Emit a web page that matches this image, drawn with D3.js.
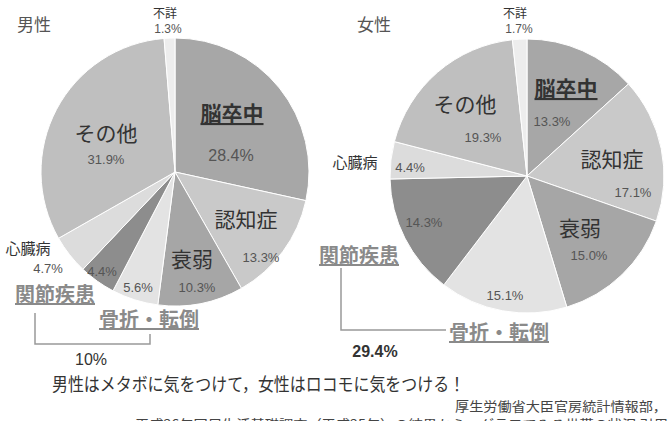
<!DOCTYPE html>
<html>
<head>
<meta charset="utf-8">
<script src="https://cdn.jsdelivr.net/npm/d3@7"></script>
<style>
  body { margin: 0; background: #fff; }
  svg { display: block; font-family: "Noto Sans CJK JP", "Noto Sans", sans-serif; }
</style>
</head>
<body>
<div id="container"></div>
<script>
// categories, clockwise from 12 o'clock
var categories = ['脳卒中', '認知症', '衰弱', '骨折・転倒', '関節疾患', '心臓病', 'その他', '不詳'];
var maleValues = [28.4, 13.3, 10.3, 5.6, 4.4, 4.7, 31.9, 1.3];
var femaleValues = [13.3, 17.1, 15.0, 15.1, 14.3, 4.4, 19.3, 1.7];
var maleLabels = ['28.4%', '13.3%', '10.3%', '5.6%', '4.4%', '4.7%', '31.9%', '1.3%'];
var femaleLabels = ['13.3%', '17.1%', '15.0%', '15.1%', '14.3%', '4.4%', '19.3%', '1.7%'];
var locomoSum = {male: '10%', female: '29.4%'};

var width = 671, height = 421;

// grey shades per category
var colorMap = d3.scaleOrdinal()
	.domain(categories)
	.range(['#a7a7a7', '#c9c9c9', '#a6a6a6', '#e3e3e3', '#8d8d8d', '#dcdcdc', '#bfbfbf', '#ededed']);

var svg = d3.select('#container').append('svg')
	.attr('width', width)
	.attr('height', height);

var pie = d3.pie().sort(null).value(function(d) { return d.value; });

// label layout for each pie (relative to the svg)
var layout = {
	male: {
		cx: 175, cy: 172, r: 134, title: '男性', tx: 17, ty: 31,
		name: {
			'その他': [106, 141], '脳卒中': [232, 121], '認知症': [246, 227], '衰弱': [192, 267],
			'心臓病': [28, 254], '関節疾患': [55, 302], '骨折・転倒': [149, 327], '不詳': [165, 18]
		},
		pct: {
			'その他': [106, 164], '脳卒中': [231, 161], '認知症': [261, 262], '衰弱': [197, 292],
			'骨折・転倒': [138, 292], '関節疾患': [102, 276], '心臓病': [48, 273], '不詳': [168, 33]
		},
		bracket: [[35, 313], [35, 344], [150, 344], [150, 334]],
		sum: [91, 365], sumBold: false
	},
	female: {
		cx: 527, cy: 176, r: 137, title: '女性', tx: 357, ty: 31,
		name: {
			'その他': [465, 112], '脳卒中': [566, 96], '認知症': [612, 167], '衰弱': [580, 236],
			'心臓病': [355, 168], '関節疾患': [359, 263], '骨折・転倒': [499, 340], '不詳': [515, 18]
		},
		pct: {
			'その他': [483, 142], '脳卒中': [552, 126], '認知症': [633, 197], '衰弱': [589, 260],
			'骨折・転倒': [505, 300], '関節疾患': [424, 227], '心臓病': [410, 172], '不詳': [519, 33]
		},
		bracket: [[341, 268], [341, 330], [446, 330]],
		sum: [375, 357], sumBold: true
	}
};

function drawPie(key, values, labels) {
	var L = layout[key];
	var data = categories.map(function(c, i) { return {key: c, value: values[i], label: labels[i]}; });
	var arc = d3.arc().innerRadius(0).outerRadius(L.r);

	var g = svg.append('g').attr('transform', 'translate(' + L.cx + ',' + L.cy + ')');
	g.selectAll('path')
		.data(pie(data)).enter()
		.append('path')
			.attr('d', arc)
			.style('fill', function(d) { return colorMap(d.data.key); })
			.style('stroke', '#fff')
			.style('stroke-width', 1);

	// title
	svg.append('text')
		.attr('x', L.tx).attr('y', L.ty)
		.style('font-size', '17px').style('fill', '#555')
		.text(L.title);

	// category names
	data.forEach(function(d) {
		var p = L.name[d.key];
		var t = svg.append('text')
			.attr('x', p[0]).attr('y', p[1])
			.attr('text-anchor', 'middle')
			.text(d.key);
		if (d.key == '脳卒中') {
			t.style('font-size', '21px').style('font-weight', 'bold').style('fill', '#333')
				.style('text-decoration', 'underline');
		} else if (d.key == '関節疾患' || d.key == '骨折・転倒') {
			t.style('font-size', '20px').style('font-weight', 'bold').style('fill', '#8a8a8a')
				.style('text-decoration', 'underline');
		} else if (d.key == '心臓病') {
			t.style('font-size', '15px').style('fill', '#333');
		} else if (d.key == '不詳') {
			t.style('font-size', '12px').style('fill', '#333');
		} else {
			t.style('font-size', '21px').style('fill', '#333');
		}

		var q = L.pct[d.key];
		svg.append('text')
			.attr('x', q[0]).attr('y', q[1])
			.attr('text-anchor', 'middle')
			.style('font-family', 'Arial, "Liberation Sans", sans-serif')
			.style('font-size', d.key == '脳卒中' && key == 'male' ? '16px' : (d.key == '不詳' ? '12px' : '13px'))
			.style('fill', '#555')
			.text(d.label);
	});

	// bracket joining 関節疾患 and 骨折・転倒
	svg.append('path')
		.attr('d', d3.line()(L.bracket))
		.style('fill', 'none')
		.style('stroke', '#999')
		.style('stroke-width', 1.5);

	svg.append('text')
		.attr('x', L.sum[0]).attr('y', L.sum[1])
		.attr('text-anchor', 'middle')
		.style('font-family', 'Arial, "Liberation Sans", sans-serif')
		.style('font-size', '16px')
		.style('font-weight', L.sumBold ? 'bold' : 'normal')
		.style('fill', '#333')
		.text(locomoSum[key]);
}

drawPie('male', maleValues, maleLabels);
drawPie('female', femaleValues, femaleLabels);

// footer texts
svg.append('text')
	.attr('x', 52).attr('y', 391)
	.attr('textLength', 413).attr('lengthAdjust', 'spacingAndGlyphs')
	.style('font-size', '18px').style('fill', '#333')
	.text('男性はメタボに気をつけて，女性はロコモに気をつける！');

svg.append('text')
	.attr('x', 455).attr('y', 411)
	.attr('textLength', 212).attr('lengthAdjust', 'spacingAndGlyphs')
	.style('font-size', '13px').style('fill', '#444')
	.text('厚生労働省大臣官房統計情報部，');

svg.append('text')
	.attr('x', 135).attr('y', 429)
	.attr('textLength', 533).attr('lengthAdjust', 'spacingAndGlyphs')
	.style('font-size', '13px').style('fill', '#444')
	.text('平成26年国民生活基礎調査（平成25年）の結果から、グラフでみる世帯の状況 引用');
</script>
</body>
</html>
